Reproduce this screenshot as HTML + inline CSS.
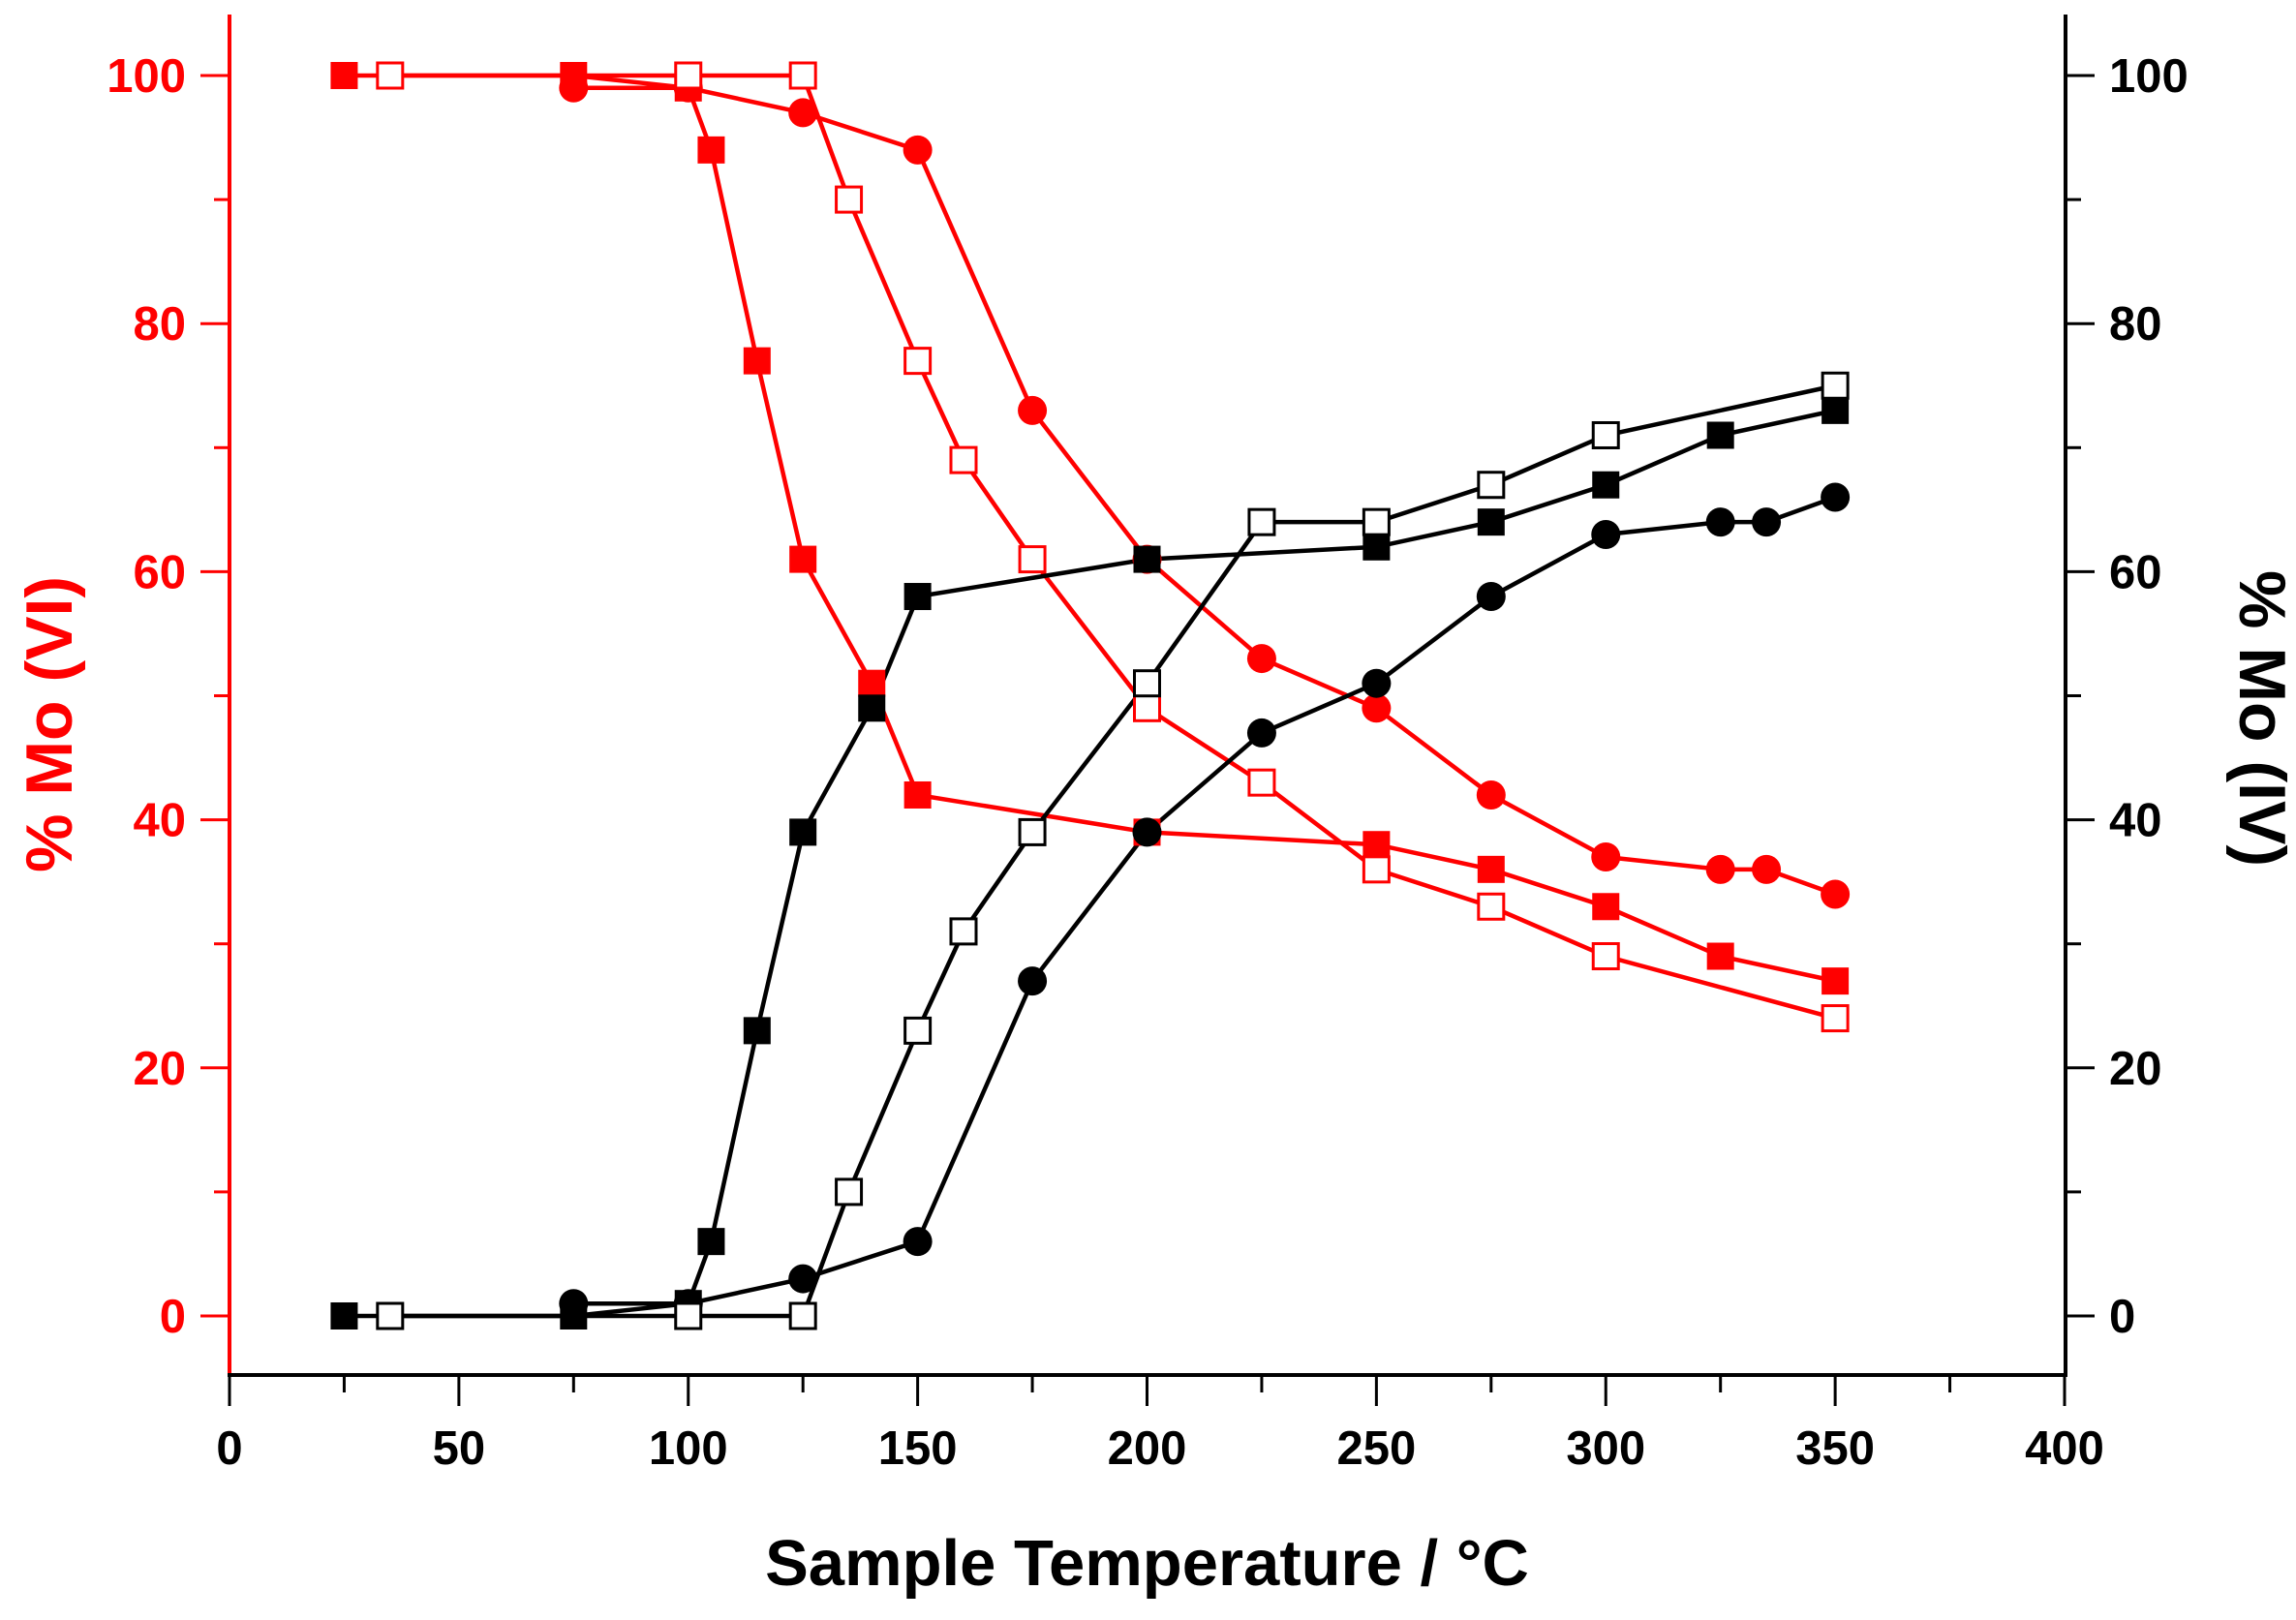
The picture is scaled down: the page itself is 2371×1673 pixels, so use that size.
<!DOCTYPE html>
<html><head><meta charset="utf-8"><style>html,body{margin:0;padding:0;background:#fff}svg{display:block}</style></head>
<body>
<svg id="s" width="2371" height="1673" xmlns="http://www.w3.org/2000/svg" font-family="Liberation Sans, Arial, sans-serif" font-weight="bold"></svg>
<script>
const s=document.getElementById('s');const NS='http://www.w3.org/2000/svg';
function el(t,a,txt){const e=document.createElementNS(NS,t);for(const k in a)e.setAttribute(k,a[k]);if(txt!==undefined)e.textContent=txt;s.appendChild(e);return e;}
const X=t=>237+t*4.7375, Y=v=>1359-v*12.81;
const L=237,R=2133,B=1420,T=15;
el('line',{x1:L,y1:T,x2:L,y2:B,stroke:'#f00','stroke-width':4});
el('line',{x1:L-2,y1:B,x2:R+2,y2:B,stroke:'#000','stroke-width':4});
el('line',{x1:R,y1:T,x2:R,y2:B+2,stroke:'#000','stroke-width':4});
for(let v=0;v<=100;v+=10){const maj=v%20==0;const y=Y(v);
 el('line',{x1:L-(maj?30:16),y1:y,x2:L,y2:y,stroke:'#f00','stroke-width':3});
 el('line',{x1:R,y1:y,x2:R+(maj?30:16),y2:y,stroke:'#000','stroke-width':3});
 if(maj){el('text',{x:L-45,y:y+17,'text-anchor':'end','font-size':49,fill:'#f00'},v);
 el('text',{x:R+45,y:y+17,'text-anchor':'start','font-size':49,fill:'#000'},v);}}
for(let t=0;t<=400;t+=25){const maj=t%50==0;const x=X(t);
 el('line',{x1:x,y1:B,x2:x,y2:B+(maj?32:18),stroke:'#000','stroke-width':3});
 if(maj)el('text',{x:x,y:B+92,'text-anchor':'middle','font-size':49,fill:'#000'},t);}
el('text',{x:X(200),y:1637,'text-anchor':'middle','font-size':67,fill:'#000'},'Sample Temperature / °C');
el('text',{transform:'translate(74,748) rotate(-90)','text-anchor':'middle','font-size':68,fill:'#f00'},'% Mo (VI)');
el('text',{transform:'translate(2313,742) rotate(90)','text-anchor':'middle','font-size':68,fill:'#000'},'% Mo (IV)');
const series=[
 ['#f00','sq',[[25,100],[75,100],[100,99],[105,94],[115,77],[125,61],[140,51],[150,42],[200,39],[250,38],[275,36],[300,33],[325,29],[350,27]]],
 ['#f00','ci',[[75,99],[100,99],[125,97],[150,94],[175,73],[200,61],[225,53],[250,49],[275,42],[300,37],[325,36],[335,36],[350,34]]],
 ['#f00','op',[[35,100],[100,100],[125,100],[135,90],[150,77],[160,69],[175,61],[200,49],[225,43],[250,36],[275,33],[300,29],[350,24]]],
 ['#000','sq',[[25,0],[75,0],[100,1],[105,6],[115,23],[125,39],[140,49],[150,58],[200,61],[250,62],[275,64],[300,67],[325,71],[350,73]]],
 ['#000','ci',[[75,1],[100,1],[125,3],[150,6],[175,27],[200,39],[225,47],[250,51],[275,58],[300,63],[325,64],[335,64],[350,66]]],
 ['#000','op',[[35,0],[100,0],[125,0],[135,10],[150,23],[160,31],[175,39],[200,51],[225,64],[250,64],[275,67],[300,71],[350,75]]]];
for(const [c,m,d] of series){
 el('polyline',{points:d.map(p=>X(p[0])+','+Y(p[1])).join(' '),fill:'none',stroke:c,'stroke-width':4.5});}
for(const [c,m,d] of series){for(const p of d){const x=X(p[0]),y=Y(p[1]);
 if(m=='sq')el('rect',{x:x-14,y:y-14,width:28,height:28,fill:c});
 else if(m=='ci')el('circle',{cx:x,cy:y,r:15,fill:c});
 else el('rect',{x:x-13,y:y-13,width:26,height:26,fill:'#fff',stroke:c,'stroke-width':3});}}
</script>
</body></html>
